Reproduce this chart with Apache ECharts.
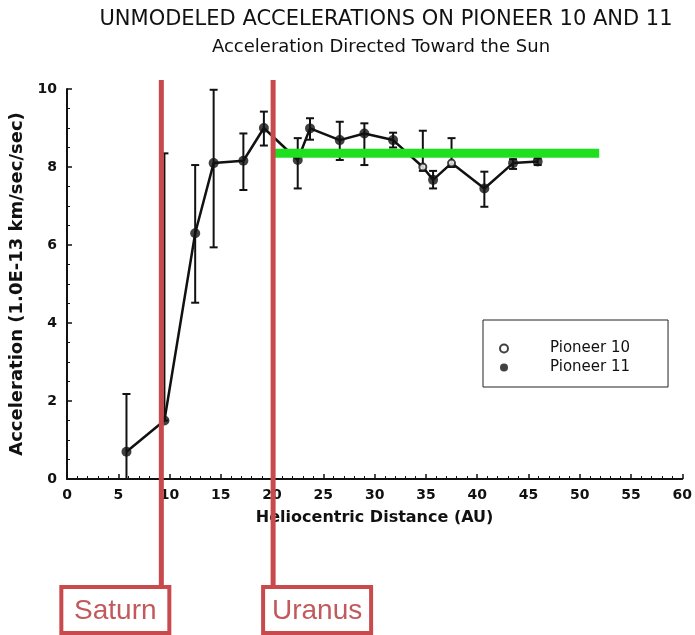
<!DOCTYPE html>
<html>
<head>
<meta charset="utf-8">
<script src="https://cdn.jsdelivr.net/npm/echarts@6/dist/echarts.min.js"></script>
<style>html,body{margin:0;padding:0;background:#fff;}#c{width:695px;height:635px;}</style>
</head>
<body>
<div id="c"></div>
<script>
// ---- data (x AU, acceleration, error low, error high) ----
const pioneer11 = [
  [5.8, 0.70, 0.0, 2.18],
  [9.5, 1.50, 1.50, 8.35],
  [12.5, 6.30, 4.52, 8.05],
  [14.3, 8.10, 5.94, 9.98],
  [17.2, 8.16, 7.41, 8.86],
  [19.2, 9.00, 8.55, 9.42],
  [22.5, 8.18, 7.45, 8.74],
  [23.7, 8.99, 8.70, 9.25],
  [26.6, 8.69, 8.18, 9.16],
  [29.0, 8.86, 8.05, 9.12],
  [31.8, 8.69, 8.50, 8.88],
  [35.7, 7.67, 7.45, 7.90],
  [40.7, 7.45, 6.98, 7.88],
  [43.5, 8.10, 7.95, 8.20],
  [45.9, 8.14, 8.05, 8.22]
];
const pioneer10 = [
  [34.7, 8.00, 7.90, 8.93],
  [37.5, 8.10, 8.00, 8.74]
];
const trendLine = [[20.1, 8.35], [51.9, 8.35]];
const planets = [[9.2, 'Saturn'], [20.1, 'Uranus']];
const xTicks = [0, 5, 10, 15, 20, 25, 30, 35, 40, 45, 50, 55, 60];
const yTicks = [0, 2, 4, 6, 8, 10];

// ---- styles ----
const RED = '#c84a4c';
const planetStyle = {
  lineTop: 80, boxTop: 587, boxHeight: 46, boxWidth: 108,
  boxOffset: { Saturn: -100, Uranus: -10 }
};

const allPoints = pioneer11.concat(pioneer10).map(d => [d[0], d[1]]).sort((a, b) => a[0] - b[0]);

const chart = echarts.init(document.getElementById('c'));

function errorBarItem(params, api) {
  const x = api.value(0), lo = api.value(2), hi = api.value(3);
  const pLo = api.coord([x, lo]);
  const pHi = api.coord([x, hi]);
  const cap = 4;
  const st = { stroke: '#111', lineWidth: 2 };
  return {
    type: 'group',
    children: [
      { type: 'line', shape: { x1: pLo[0], y1: pLo[1], x2: pHi[0], y2: pHi[1] }, style: st },
      { type: 'line', shape: { x1: pHi[0] - cap, y1: pHi[1], x2: pHi[0] + cap, y2: pHi[1] }, style: st },
      { type: 'line', shape: { x1: pLo[0] - cap, y1: pLo[1], x2: pLo[0] + cap, y2: pLo[1] }, style: st }
    ]
  };
}

function planetItem(params, api) {
  const x = api.value(0);
  const name = planets[params.dataIndex][1];
  const px = api.coord([x, 0])[0];
  const s = planetStyle;
  const bx = px + s.boxOffset[name];
  return {
    type: 'group',
    children: [
      { type: 'line', shape: { x1: px, y1: s.lineTop, x2: px, y2: s.boxTop }, style: { stroke: RED, lineWidth: 5 } },
      { type: 'rect', shape: { x: bx, y: s.boxTop, width: s.boxWidth, height: s.boxHeight }, style: { fill: '#fff', stroke: RED, lineWidth: 4 } },
      { type: 'text', style: { x: bx + s.boxWidth / 2, y: s.boxTop + s.boxHeight / 2 + 1, text: name, fill: '#c25a5d', font: '28px "Liberation Sans", Arial, sans-serif', textAlign: 'center', textVerticalAlign: 'middle' } }
    ]
  };
}

const FONT = 'DejaVu Sans';

chart.setOption({
  animation: false,
  backgroundColor: '#fff',
  title: [
    { text: 'UNMODELED ACCELERATIONS ON PIONEER 10 AND 11', left: 381, top: 4, textAlign: 'center',
      textStyle: { fontFamily: FONT, fontSize: 21, fontWeight: 'normal', color: '#111' } },
    { text: 'Acceleration Directed Toward the Sun', left: 376, top: 33, textAlign: 'center',
      textStyle: { fontFamily: FONT, fontSize: 18, fontWeight: 'normal', color: '#111' } }
  ],
  legend: {
    orient: 'vertical', left: 483, top: 320,
    data: [
      { name: 'Pioneer 10', icon: 'emptyCircle' },
      { name: 'Pioneer 11', icon: 'circle' }
    ],
    itemWidth: 8, itemHeight: 8, itemGap: 4,
    padding: [21, 38, 12, 16],
    borderColor: '#222', borderWidth: 1,
    textStyle: { fontFamily: FONT, fontSize: 15, color: '#111', padding: [0, 0, 0, 37] }
  },
  grid: { left: 67, right: 12, top: 89, bottom: 156, containLabel: false },
  xAxis: {
    type: 'value', min: 0, max: 60, interval: 5,
    name: 'Heliocentric Distance (AU)', nameLocation: 'middle', nameGap: 31,
    nameTextStyle: { fontFamily: FONT, fontSize: 16, fontWeight: 'bold', color: '#111' },
    axisLine: { lineStyle: { color: '#111', width: 2 } },
    axisTick: { inside: true, length: 5, lineStyle: { color: '#111', width: 1.5 } },
    minorTick: { show: true, splitNumber: 5, length: 3, lineStyle: { color: '#111' } },
    splitLine: { show: false },
    axisLabel: { margin: 9, fontFamily: FONT, fontSize: 14, fontWeight: 'bold', color: '#111',
      formatter: v => xTicks.indexOf(v) >= 0 ? String(v) : '' }
  },
  yAxis: {
    type: 'value', min: 0, max: 10, interval: 2,
    name: 'Acceleration (1.0E-13 km/sec/sec)', nameLocation: 'middle', nameGap: 37,
    nameTextStyle: { fontFamily: FONT, fontSize: 18, fontWeight: 'bold', color: '#111' },
    axisLine: { show: true, lineStyle: { color: '#111', width: 2 } },
    axisTick: { show: true, inside: true, length: 5, lineStyle: { color: '#111', width: 1.5 } },
    minorTick: { show: true, splitNumber: 4, length: 3, lineStyle: { color: '#111' } },
    splitLine: { show: false },
    axisLabel: { margin: 10, fontFamily: FONT, fontSize: 14, fontWeight: 'bold', color: '#111',
      formatter: v => yTicks.indexOf(v) >= 0 ? String(v) : '' }
  },
  series: [
    { type: 'line', name: 'path', data: allPoints, symbol: 'none', lineStyle: { color: '#111', width: 2.5 }, z: 2 },
    { type: 'custom', name: 'err11', data: pioneer11, renderItem: errorBarItem, encode: { x: 0, y: 1 }, z: 3 },
    { type: 'custom', name: 'err10', data: pioneer10, renderItem: errorBarItem, encode: { x: 0, y: 1 }, z: 3 },
    { type: 'scatter', name: 'Pioneer 11', data: pioneer11.map(d => [d[0], d[1]]), symbol: 'circle', symbolSize: 10,
      itemStyle: { color: '#111' }, z: 4 },
    { type: 'scatter', name: 'Pioneer 10', data: pioneer10.map(d => [d[0], d[1]]), symbol: 'emptyCircle', symbolSize: 7,
      itemStyle: { color: '#111', borderColor: '#111', borderWidth: 2 }, z: 4 },
    { type: 'line', name: 'trend', data: trendLine, symbol: 'none', lineStyle: { color: '#1ee01e', width: 9, cap: 'butt' }, z: 6 },
    { type: 'custom', name: 'planets', data: planets.map(p => [p[0]]), renderItem: planetItem, encode: { x: 0 }, clip: false, z: 7 }
  ]
});
</script>
</body>
</html>
